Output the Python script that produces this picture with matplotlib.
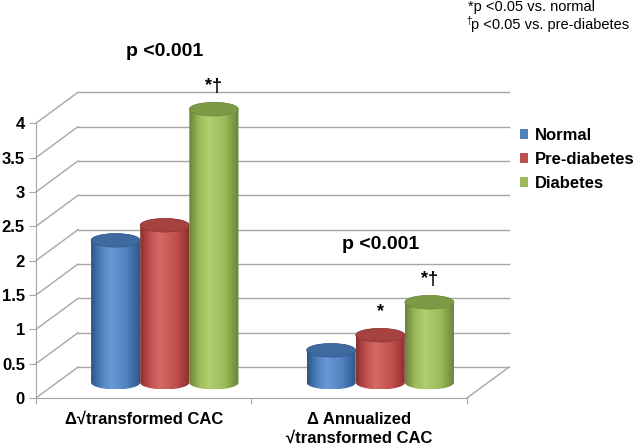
import numpy as np
import matplotlib.pyplot as plt
from matplotlib.patches import Ellipse, PathPatch, Patch
from matplotlib.path import Path
from matplotlib.colors import LinearSegmentedColormap

plt.rcParams['font.family'] = ['Liberation Sans', 'DejaVu Sans']

# data
groups = ["\u0394\u221atransformed CAC", "\u0394 Annualized\n\u221atransformed CAC"]
series = ["Normal", "Pre-diabetes", "Diabetes"]
normal = [2.07, 0.47]
prediabetes = [2.29, 0.69]
diabetes = [3.98, 1.17]
stars = [["", "", "*\u2020"], ["", "*", "*\u2020"]]
pvals = ["p <0.001", "p <0.001"]
yticks = [0, 0.5, 1, 1.5, 2, 2.5, 3, 3.5, 4]

# dark edge, base, highlight, top face
palette = [("#2c5488", "#4f81bd", "#6a9bd8", "#3e6aa0"),
           ("#8a302d", "#c0504d", "#d56a66", "#a6423f"),
           ("#67823a", "#9bbb59", "#b0cd70", "#7d9b44")]

values = [normal, prediabetes, diabetes]

# fake 3d geometry (data units)
dx, dy = 0.195, 0.45
bar_w = 0.228
ell_h = 0.2
base = dy / 2

fig = plt.figure(figsize=(6.38, 4.45), dpi=100)
ax = fig.add_axes([36 / 638, 47 / 445, 2.4 * 215.5 / 638, 5.8 * 68.7 / 445])

grid_c = "#a6a6a6"
# side wall diagonals + back wall grid
for v in yticks:
    ax.plot([0, dx], [v, v + dy], color=grid_c, lw=1, zorder=1, clip_on=False)
    ax.plot([dx, 2 + dx], [v + dy, v + dy], color=grid_c, lw=1, zorder=1, clip_on=False)
# floor right edge
ax.plot([2, 2 + dx], [0, dy], color=grid_c, lw=1, zorder=1, clip_on=False)


def cylinder(xc, h, cols, z):
    a = bar_w / 2
    b = ell_h / 2
    y0 = base
    y1 = base + h
    t = np.linspace(np.pi, 2 * np.pi, 50)
    bottom = np.column_stack([xc + a * np.cos(t), y0 + b * np.sin(t)])
    t2 = np.linspace(0, np.pi, 50)
    top = np.column_stack([xc + a * np.cos(t2), y1 + b * np.sin(t2)])
    verts = np.vstack([bottom, top, bottom[:1]])
    path = Path(verts)
    cmap = LinearSegmentedColormap.from_list(
        "c", [(0, cols[0]), (0.2, cols[1]), (0.4, cols[2]), (0.72, cols[1]), (1, cols[0])])
    grad = np.linspace(0, 1, 200).reshape(1, -1)
    im = ax.imshow(grad, cmap=cmap, extent=[xc - a, xc + a, y0 - b, y1 + b],
                   aspect='auto', origin='lower', interpolation='bilinear', zorder=z)
    im.set_clip_path(PathPatch(path, transform=ax.transData))
    ax.add_patch(Ellipse((xc, y1), 2 * a, 2 * b, facecolor=cols[3],
                         edgecolor=cols[0], lw=0.4, zorder=z + 0.5))


for g in range(len(groups)):
    gc = g + 0.5 + dx / 2
    tops = []
    for i in range(len(series)):
        xc = gc + (i - 1) * bar_w
        cylinder(xc, values[i][g], palette[i], 3 + i)
        top = base + values[i][g]
        tops.append(top)
        if stars[g][i]:
            ax.text(xc, top + 0.27, stars[g][i], ha='center', va='baseline',
                    fontsize=13, fontweight='bold')
    ax.text(gc, max(tops) + 0.78, pvals[g], ha='center', va='baseline',
            fontsize=14, fontweight='bold')

ax.set_xlim(0, 2.4)
ax.set_ylim(0, 5.8)
for s in ['top', 'right']:
    ax.spines[s].set_visible(False)
ax.spines['left'].set_bounds(0, 4)
ax.spines['bottom'].set_bounds(0, 2)
ax.spines['left'].set_color(grid_c)
ax.spines['bottom'].set_color(grid_c)

ax.set_yticks(yticks)
ax.set_yticklabels(["%g" % v for v in yticks], fontsize=12, fontweight='bold')
ax.tick_params(axis='y', length=5, color=grid_c, pad=3)
ax.set_xticks([0, 1, 2])
ax.set_xticklabels([])
ax.set_xticks([0.5, 1.5], minor=True)
ax.set_xticklabels(groups, minor=True, fontsize=12, fontweight='bold', linespacing=1.3)
ax.tick_params(axis='x', which='major', length=4, color=grid_c)
ax.tick_params(axis='x', which='minor', length=0, pad=10)

handles = [Patch(facecolor=palette[i][1], label=series[i]) for i in range(len(series))]
fig.legend(handles=handles, loc='center left', bbox_to_anchor=(520 / 638, 1 - 159.5 / 445),
           frameon=False, prop={'weight': 'bold', 'size': 12}, handlelength=0.5,
           handleheight=0.5, handletextpad=0.4, labelspacing=0.55, borderpad=0,
           borderaxespad=0)

# footnotes
fig.text(468 / 638, 1 - 11 / 445, "*p <0.05 vs. normal", fontsize=10.5, va='baseline')
fig.text(466 / 638, 1 - 24 / 445, "\u2020", fontsize=7, va='baseline')
fig.text(471 / 638, 1 - 29 / 445, "p <0.05 vs. pre-diabetes", fontsize=10.5, va='baseline')

fig.savefig("out.png", dpi=100)
